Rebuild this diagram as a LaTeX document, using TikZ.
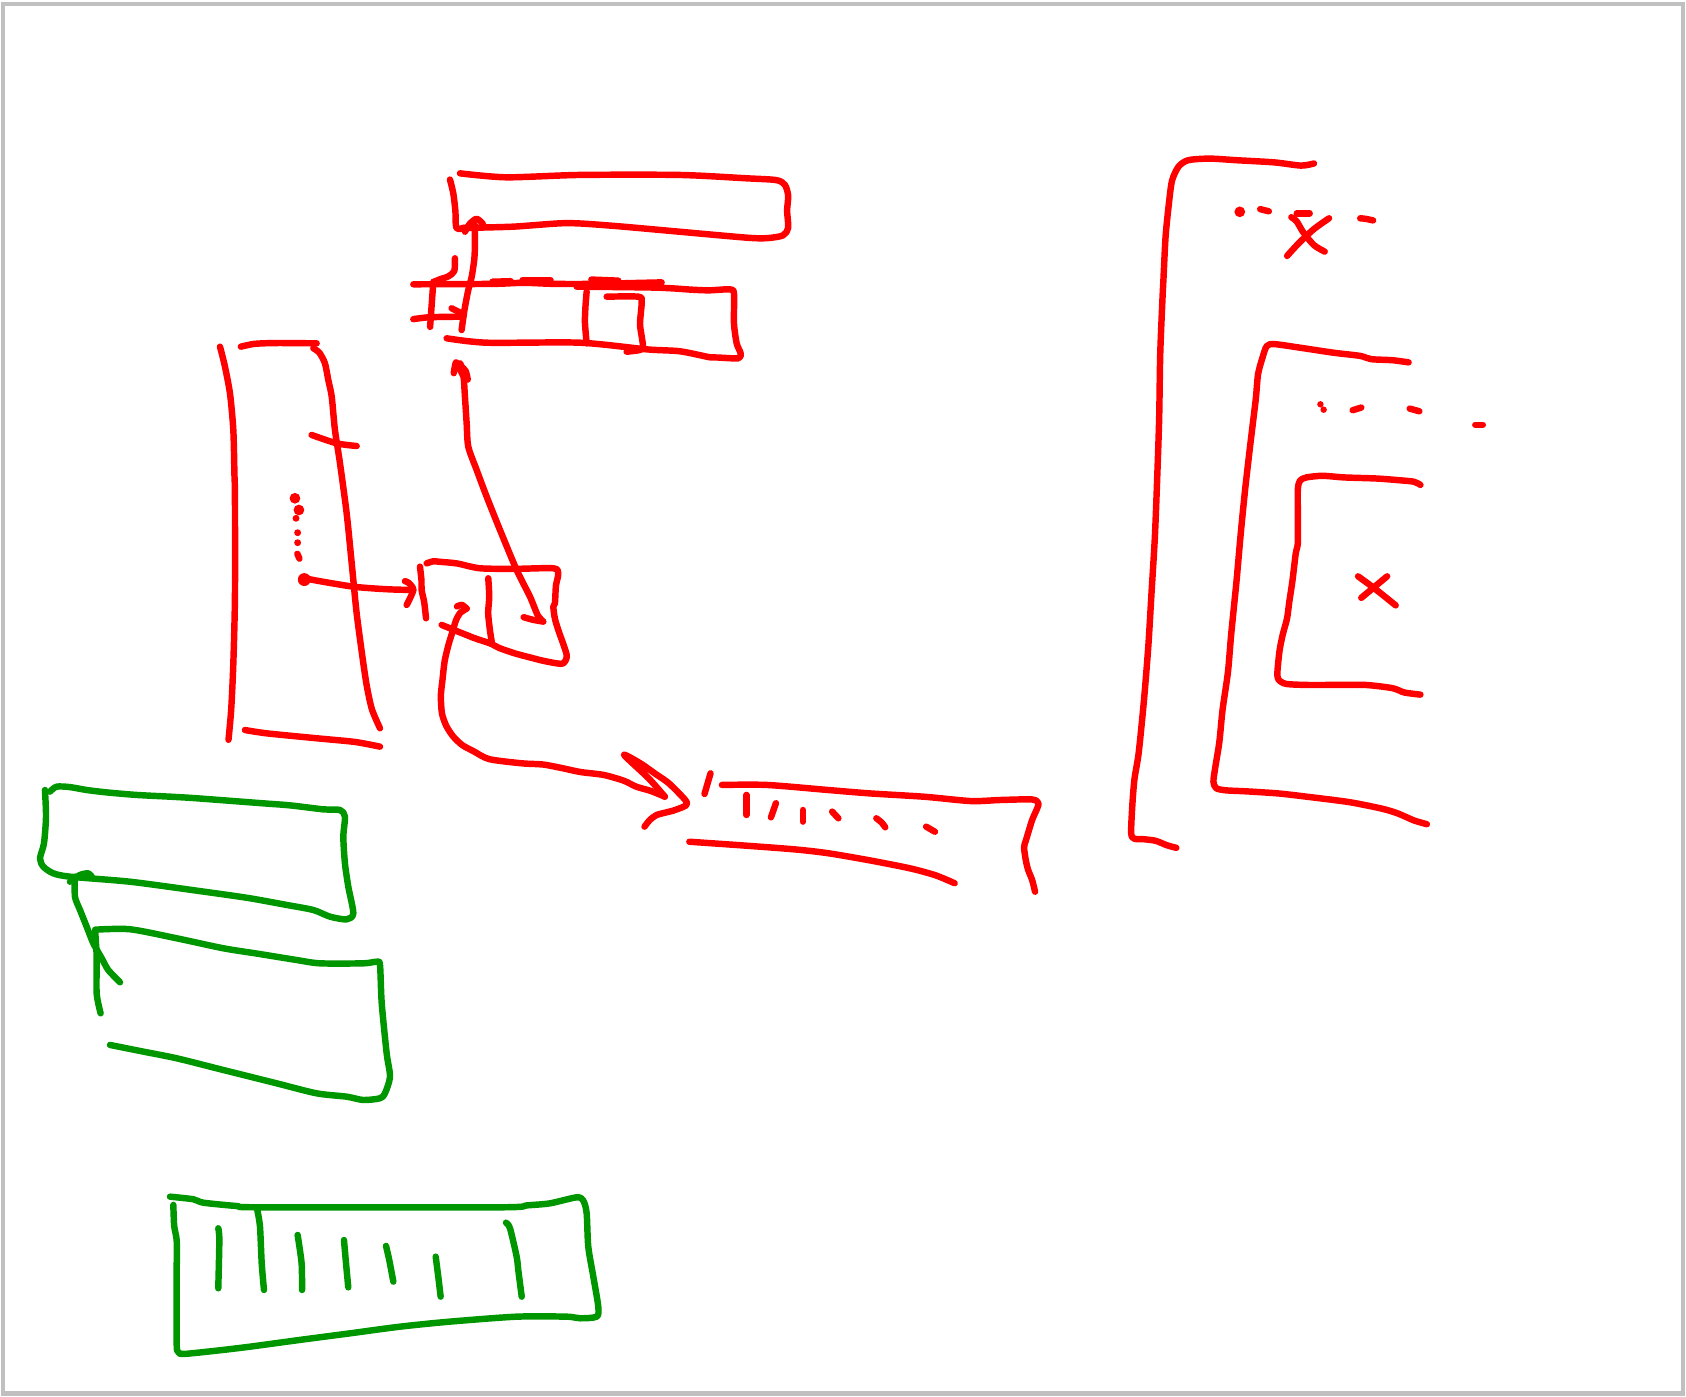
\documentclass[tikz,border=0pt]{standalone}
\definecolor{pen red}{RGB}{255,0,0}
\definecolor{pen green}{RGB}{0,150,0}
\definecolor{frame gray}{RGB}{192,192,192}
\tikzset{
  redpen/.style={draw=pen red, line width=6pt, line cap=round, line join=round},
  greenpen/.style={draw=pen green, line width=6pt, line cap=round, line join=round},
}
\newcommand\skr[1]{\draw[redpen] plot[smooth,tension=0.45] coordinates {#1};}
\newcommand\skg[1]{\draw[greenpen] plot[smooth,tension=0.45] coordinates {#1};}
\begin{document}
\begin{tikzpicture}[x=1pt,y=-1pt]
\useasboundingbox (0,0) rectangle (1568,1299);
\fill[white] (0,0) rectangle (1568,1299);
\draw[frame gray, line width=4pt] (3,4) rectangle (1565,1296);

% ---------- top red box ----------
\skr{(427.8,161.2)(471,164.9)(539,162.7)(632,162.7)(694,165.8)(722,167.5)(730,172)(733,182)(732,196)(733,212)(728,219)(713,221.5)(694,221)(632,215.5)(570,210)(527,207.5)(477,210.8)(430,212)}
\skr{(418.5,167)(421.6,180)(423.5,196)(424.5,212)(432,212)}
\skr{(429.3,306.9)(432,288)(435.5,269.7)(438.7,257.3)(441.2,240)(441.7,225)(441.5,209)}
\skr{(432.4,215.5)(437,208)(443.3,203.5)(449,208)}

% ---------- second red box ----------
\skr{(384.4,264.4)(458.8,264)(487,263)(515,264)(552,264)(615.3,262.6)}
\skr{(458,262)(475,261.5)}
\skr{(486,260.5)(512,260.5)}
\skr{(550,260)(575,261)}
\skr{(536.3,266.6)(610.7,267.5)(645,269.5)(660,270)(678.9,269.1)(682.6,273)(682.6,300.7)(685.1,319.3)(688.8,328.6)(686.6,333.2)(668,332.5)(660.3,332.3)(632.4,326.7)(601.4,324.9)(539.4,318.7)(452.6,318.7)(415.4,314.6)}
\skr{(403,262)(401.5,283)(400,304)}
\skr{(423.1,240.2)(422.5,252)(417,257)(409.2,259.7)(404,262)}
\skr{(384.4,296.8)(399.9,295)(430.9,294.5)}
\skr{(420,286.7)(429.3,291.4)}
\skr{(545.6,271.2)(544.5,285)(544,300)(545.6,319.3)}
\skr{(564.2,275.9)(593.6,275.9)(596.8,280.5)(595.2,300.7)(596.8,313)(598,322.4)(595.2,325.5)(582.8,327.1)}

% ---------- long arrow middle box -> second box ----------
\skr{(505.3,578.1)(500,572)(492.9,554.9)(480.5,530.1)(465,492.9)(452.6,461.9)(443.3,437.1)(435.5,415.4)(434,393.7)(432.4,368.9)(430.9,347.2)(428,338)}
\skr{(422,347)(424,337)(427,342)(432,352)}
\skr{(427,339)(433,345)(435,353)}
\skr{(487,574)(496,576.5)(505,578)}

% ---------- left tall red shape ----------
\skr{(204.6,322.4)(209,340)(213.9,366)(217,400)(218,440)(218.5,461.9)(218.5,554.9)(217,616.9)(215,660)(212.5,688)}
\skr{(224,322.4)(235,320)(244.9,319.3)(260,319)(294.5,319.3)}
\skr{(291.4,323.9)(297,328)(302.2,337.9)(305.3,353.4)(308.5,368.9)(311.5,399.9)(316.2,430.9)(322.4,477.4)(327.1,523.9)(331.7,570.4)(337.9,616.9)(341.5,640)(346,660)(353.4,677.3)}
\skr{(227.8,678.9)(248,682)(294.5,686.6)(330,690)(353.4,694.4)}
\skr{(289.8,404.5)(313.1,412.3)(331.7,414.8)}
\fill[pen red] (274.3,463.4) circle (5);
\fill[pen red] (278,474.3) circle (5);
\fill[pen red] (275.3,482) circle (3.2);
\fill[pen red] (276.8,495.4) circle (3.2);
\fill[pen red] (276.8,504.7) circle (3.2);
\skr{(276.5,515)(278.5,519.5)}
\fill[pen red] (283,539) circle (6);
\skr{(282,537)(291.4,539.4)(328.6,545.6)(360,548)(384.4,548.7)}
\skr{(376.6,540.5)(380,542)(384.4,548.7)(378.2,562.6)}

% ---------- middle red box ----------
\skr{(390.6,527)(392,540)(392.1,548.7)(394.5,560)(396.2,575)}
\skr{(396.8,523.9)(403,522)(409.2,522.5)(425,524)(446.4,528.5)(480,529)(514.6,528.5)(519.2,533.2)(517,545)(516.1,561)(514.6,564.2)(516,575)(519.2,585.9)(527,609.1)(523.9,616.9)(517.7,616.9)(505,614.5)(496,612.2)(480,608)(465,602.9)(455.7,598.3)(440,593)(410.8,581.2)}
\skr{(454.1,537.8)(455,555)(454,570)(455.5,585)(457.3,596.8)}

% ---------- curved arrow middle box -> lower box ----------
\skr{(434,566)(428,570)(424,577)(421.6,585)(417,600)(413.5,615)(411.5,632.4)(410,647)(411,663.3)(415,675)(421.6,685.1)(430,693)(440.2,698.5)(455,706)(485.5,709.9)(505,711)(523.5,714.5)(540,718)(561.4,720.7)(580,726)(591.7,731.6)(605,735.5)(618.3,740.9)}
\skr{(425,564)(429.5,562.5)(434,566)}
\skr{(618.3,740.9)(603.2,723.8)(580.4,702.1)(595.6,709.9)(610,720)(622.1,728.5)(637.3,744)(638,749)(626,753.9)(610.7,757.9)(604,763)(599.4,768.8)}

% ---------- lower red box ----------
\skr{(660.8,719.2)(655.2,738.4)}
\skr{(671.4,730)(713.2,730)(770.2,734.7)(808.1,737.8)(860,741)(903,745)(930,744)(959.9,743.5)(965.7,747)(964.5,752)(959.9,762.6)(954.2,781.2)(952.4,788)(954,800)(956.2,809.1)(959.9,818.4)(962.6,829.3)}
\skr{(641.1,782.8)(694.2,786.5)(740,790)(770.2,793.5)(808.1,800)(846.1,807.5)(870,814)(887.8,821.4)}
\skr{(694.2,739.3)(694.2,757.9)}
\skr{(721.6,747)(717,760.1)}
\skr{(746.7,753.3)(746.7,764.1)}
\skr{(773.9,754.8)(779.7,761)}
\skr{(815,761)(820,765)(823.3,769.4)}
\skr{(861.3,768.8)(869.5,773.5)}

% ---------- right nested brackets ----------
\skr{(1222,152)(1210,154)(1185,151)(1150,149)(1125,147.5)(1105,149)(1096,155)(1090,168)(1087,190)(1084,220)(1082,260)(1081,280)(1079,330)(1078,390)(1076,450)(1074,500)(1071,550)(1068,600)(1064,650)(1059,700)(1055,725)(1053,750)(1052,775)(1055,780)(1064,780.5)(1075,782)(1085,786)(1094,788.5)}
\fill[pen red] (1153,197) circle (5);
\skr{(1172,194.5)(1180,196.5)}
\skr{(1206,198.5)(1218,198.5)}
\skr{(1197,238)(1208,226)(1222,213)(1236,203)}
\skr{(1201,202)(1206,206)(1212,216)(1222,228)(1232,234)}
\skr{(1265,203)(1270,203.5)(1277,205)}

\skr{(1310,337)(1295,335)(1275,334)(1265,331)(1240,328)(1210,323.5)(1185,320)(1178,322)(1174,333)(1170,348)(1168,370)(1165,395)(1162,420)(1158,455)(1154,495)(1150,540)(1145,590)(1142,625)(1137,660)(1134,690)(1130,715)(1128.5,727)(1131,733)(1140,735)(1160,736)(1190,738)(1220,741.5)(1255,746)(1285,752)(1300,756.5)(1315,763)(1327,766.5)}
\fill[pen red] (1228,376) circle (3);
\fill[pen red] (1231,381) circle (3);
\skr{(1258,381.5)(1266,379)}
\skr{(1311,380)(1320,382.5)}
\skr{(1372,395)(1379,395)}

\skr{(1321,451)(1315,448)(1300,446.5)(1280,445)(1250,444)(1230,442.5)(1215,444)(1209,447)(1207,455)(1207,480)(1207,505)(1205,515)(1202,540)(1199,560)(1197,575)(1193,590)(1190,605)(1188,625)(1189,632)(1196,636)(1215,637)(1240,637)(1270,637)(1295,640)(1306,644)(1321,646)}
\skr{(1266,556)(1278,546)(1290,536)}
\skr{(1263,536)(1278,547)(1298,563)}

% ---------- green shapes ----------
\skg{(46.5,736.2)(52.7,731.6)(65,732)(80.6,734.7)(100,737)(127.1,739.3)(160,741)(182.9,742.4)(244.9,747.1)(270,749)(300.7,752.7)(316.2,753.3)(320.8,759.5)(319.3,778.1)(320.8,802.9)(324,825)(328.6,849.4)(322.4,855)(306.9,852.5)(291.4,846.3)(266.6,841.6)(230,835)(182.9,828.3)(120.9,820)(65.1,815.3)(49.6,812.2)(40.3,806)(37.2,798.2)(40.9,784.3)(42.8,759.5)(41.8,734.7)}
\skg{(65.1,820)(74.4,813.7)(82.1,812.2)(85.3,815.3)}
\skg{(69.7,815.3)(69.7,833.9)(74.4,846.3)(80.6,861.8)(86.8,877.3)(94.6,891.2)(100.7,902.1)(111.6,913.5)}
\skg{(93.6,942.4)(89.9,923.8)(89.9,889.7)(88.5,866)}
\skg{(88.5,864.6)(120.9,864.2)(164.3,872.6)(207.7,881.9)(240,887)(275.9,892.8)(297.6,895.9)(337.9,895.9)(350.3,894.4)(353.4,897.4)(355,933)(359.6,979.6)(362.7,1001.3)(358,1016.8)(353.4,1021.4)(337.9,1023)(322.4,1019.9)(294.5,1016.8)(257.3,1007.5)(207.7,995.1)(164.3,984.2)(133.3,978)(102.3,971.8)}

\skg{(158.1,1112.9)(179.8,1115.3)(189.1,1118.5)(220.1,1121.6)(241.8,1122.8)(465,1122.8)(490,1121)(511.5,1119.1)(536.3,1113.5)(542.5,1116.6)(545.6,1128.4)(547.1,1159.4)(551.8,1187.3)(556.4,1215.2)(554.9,1224.5)(539.4,1226)(527,1224.5)(480.5,1224.5)(418.5,1229.1)(372,1233.8)(325.5,1240)(279,1246.1)(232.5,1252.4)(201.5,1256.1)(170.5,1259.2)(165.8,1257.1)(164.3,1249.3)(164.3,1174.9)}
\skg{(161.2,1120.6)(162,1140)(164.3,1153.2)(164.5,1175)}
\skg{(203,1142.3)(204,1153.1)(203,1198.1)}
\skg{(239.3,1125.3)(241.8,1140.8)(243.4,1174.9)(245.5,1199.7)}
\skg{(276.8,1148.5)(280.5,1174.9)(280.9,1199.7)}
\skg{(319.9,1153.2)(321.8,1174.9)(323.9,1197.2)}
\skg{(359,1158.7)(362,1171.8)(365.8,1191.9)}
\skg{(405.2,1168.7)(407.6,1187.3)(409.8,1205.9)}
\skg{(470.6,1137.1)(474.3,1142.3)(480.5,1168.7)(482,1181.1)(485.2,1205.9)}
\end{tikzpicture}
\end{document}
